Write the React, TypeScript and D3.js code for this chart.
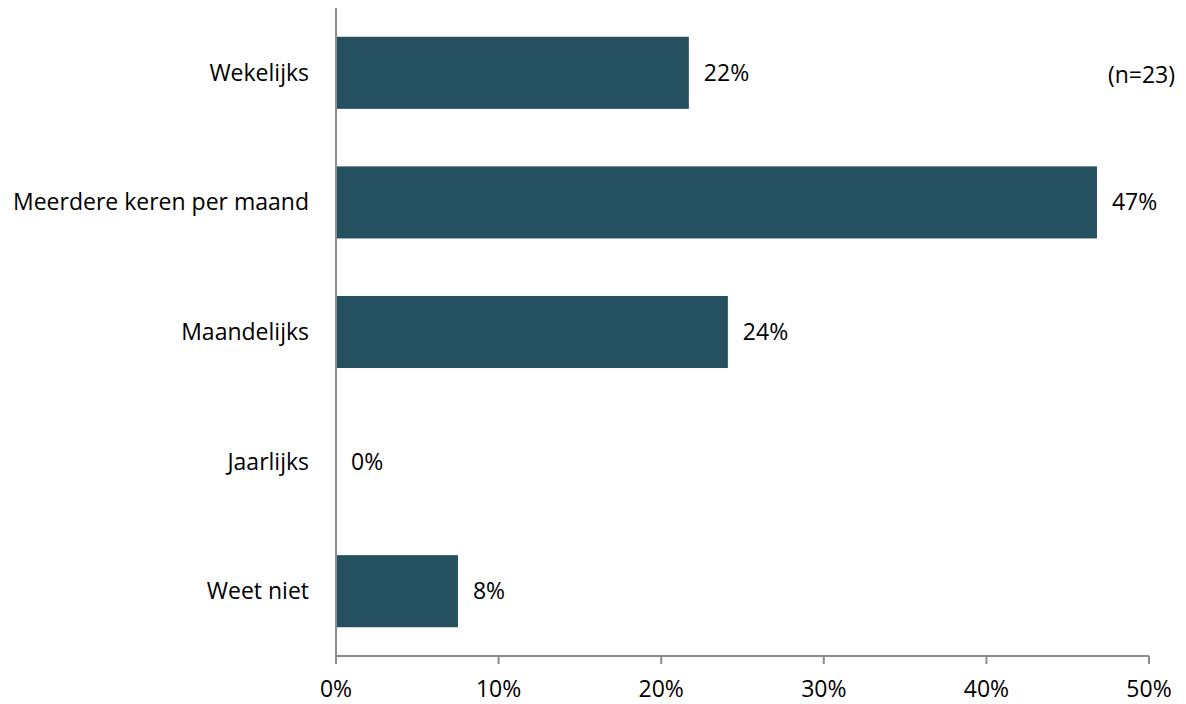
import React from "react";
import * as d3 from "d3";

const categories = ["Wekelijks", "Meerdere keren per maand", "Maandelijks", "Jaarlijks", "Weet niet"];
const values = [21.7, 46.8, 24.1, 0, 7.5];
const valueLabels = ["22%", "47%", "24%", "0%", "8%"];
const xTicks = [0, 10, 20, 30, 40, 50];
const note = "(n=23)";

export default function App() {
  const W = 1186, H = 704;
  const left = 336, right = 1149, top = 8, bottom = 656;
  const x = d3.scaleLinear().domain([0, 50]).range([left, right]);
  const y = d3.scaleBand<string>().domain(categories).range([top, bottom]).paddingInner(0.444).paddingOuter(0.222);
  const font = "'Open Sans', sans-serif";
  const fs = 23;
  const axisColor = "#8c8c8c";
  return (
    <svg width={W} height={H} style={{ position: "absolute", left: 0, top: 0 }} fontFamily={font}>
      <rect width={W} height={H} fill="#fff" />
      {categories.map((c, i) => (
        <g key={c}>
          <rect x={x(0)} y={y(c)!} width={x(values[i]) - x(0)} height={y.bandwidth()} fill="#24505f" />
          <text x={x(values[i]) + 15} y={y(c)! + y.bandwidth() / 2} dy="0.35em" fontSize={fs} fill="#000">{valueLabels[i]}</text>
          <text x={left - 27} y={y(c)! + y.bandwidth() / 2} dy="0.35em" textAnchor="end" fontSize={fs} fill="#000">{c}</text>
        </g>
      ))}
      <line x1={left} x2={left} y1={top} y2={bottom} stroke={axisColor} strokeWidth={2} />
      <line x1={left} x2={right} y1={bottom} y2={bottom} stroke={axisColor} strokeWidth={2} />
      {xTicks.map(t => (
        <g key={t}>
          <line x1={x(t)} x2={x(t)} y1={bottom} y2={bottom + 8} stroke={axisColor} strokeWidth={2} />
          <text x={x(t)} y={697} textAnchor="middle" fontSize={fs} fill="#000">{t}%</text>
        </g>
      ))}
      <text x={1175} y={75} dy="0.35em" textAnchor="end" fontSize={fs} fill="#000">{note}</text>
    </svg>
  );
}
